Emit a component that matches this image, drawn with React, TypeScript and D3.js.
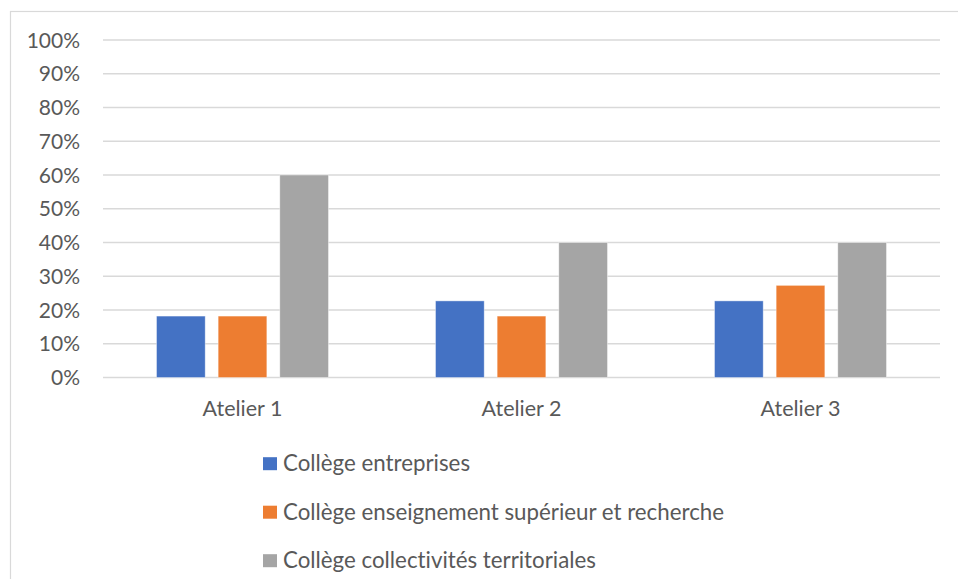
import React, { useEffect, useRef } from 'react';
import * as d3 from 'd3';

const categories = ['Atelier 1', 'Atelier 2', 'Atelier 3'];
const seriesNames = [
  'Collège entreprises',
  'Collège enseignement supérieur et recherche',
  'Collège collectivités territoriales',
];
const entreprises = [0.182, 0.227, 0.227];
const enseignement = [0.182, 0.182, 0.273];
const collectivites = [0.6, 0.4, 0.4];
const colors = ['#4472C4', '#ED7D31', '#A5A5A5'];
const yTicks = [0, 0.1, 0.2, 0.3, 0.4, 0.5, 0.6, 0.7, 0.8, 0.9, 1];

const W = 958;
const H = 579;
const FONT = 'Lato, "Noto Sans", sans-serif';

export default function App() {
  const svgRef = useRef<SVGSVGElement>(null);

  useEffect(() => {
    if (!svgRef.current) return;
    const svg = d3.select(svgRef.current);
    svg.selectAll('*').remove();

    const left = 103;
    const right = 940;
    const top = 40;
    const bottom = 377.5;

    // chart frame
    svg.append('rect')
      .attr('x', 10.5).attr('y', 11.5)
      .attr('width', W + 20).attr('height', H + 20)
      .attr('fill', '#fff')
      .attr('stroke', '#d9d9d9')
      .attr('stroke-width', 1.2);

    const y = d3.scaleLinear().domain([0, 1]).range([bottom, top]);
    const x0 = d3.scaleBand<string>().domain(categories).range([left, right]);
    const groupW = 172;
    const x1 = d3.scaleBand<string>()
      .domain(seriesNames)
      .range([(x0.bandwidth() - groupW) / 2, (x0.bandwidth() + groupW) / 2])
      .paddingInner(0.21)
      .paddingOuter(0);

    // gridlines
    svg.append('g')
      .selectAll('line')
      .data(yTicks)
      .enter()
      .append('line')
      .attr('x1', left).attr('x2', right)
      .attr('y1', d => y(d)).attr('y2', d => y(d))
      .attr('stroke', '#d9d9d9')
      .attr('stroke-width', 1.5);

    // y tick labels
    svg.append('g')
      .selectAll('text')
      .data(yTicks)
      .enter()
      .append('text')
      .attr('x', 80)
      .attr('y', d => y(d))
      .attr('dy', '0.36em')
      .attr('text-anchor', 'end')
      .attr('fill', '#595959')
      .attr('font-family', FONT)
      .attr('font-size', 21)
      .text(d => `${Math.round(d * 100)}%`);

    const series = [entreprises, enseignement, collectivites];

    const groups = svg.append('g')
      .selectAll('g')
      .data(categories)
      .enter()
      .append('g')
      .attr('transform', c => `translate(${x0(c)},0)`);

    groups.selectAll('rect')
      .data((c, ci) => series.map((s, si) => ({ name: seriesNames[si], v: s[ci], color: colors[si] })))
      .enter()
      .append('rect')
      .attr('x', d => x1(d.name) as number)
      .attr('width', x1.bandwidth())
      .attr('y', d => y(d.v))
      .attr('height', d => bottom - y(d.v))
      .attr('fill', d => d.color)
      .attr('stroke', '#fff')
      .attr('stroke-opacity', 0.5)
      .attr('stroke-width', 0.8);

    // category labels
    svg.append('g')
      .selectAll('text')
      .data(categories)
      .enter()
      .append('text')
      .attr('x', c => (x0(c) as number) + x0.bandwidth() / 2)
      .attr('y', 416)
      .attr('text-anchor', 'middle')
      .attr('fill', '#595959')
      .attr('font-family', FONT)
      .attr('font-size', 21.5)
      .text(c => c);

    // legend
    const legend = svg.append('g')
      .selectAll('g')
      .data(seriesNames)
      .enter()
      .append('g')
      .attr('transform', (d, i) => `translate(263,${463.7 + i * 48.5})`);

    legend.append('rect')
      .attr('x', 0).attr('y', -6.5)
      .attr('width', 14).attr('height', 13)
      .attr('fill', (d, i) => colors[i]);

    legend.append('text')
      .attr('x', 20)
      .attr('y', 7.5)
      .attr('fill', '#595959')
      .attr('font-family', FONT)
      .attr('font-size', 22.3)
      .style('font-variant-ligatures', 'none')
      .text(d => d);
  }, []);

  return (
    <svg
      ref={svgRef}
      width={W}
      height={H}
      style={{ position: 'absolute', left: 0, top: 0, background: '#fff' }}
    />
  );
}
